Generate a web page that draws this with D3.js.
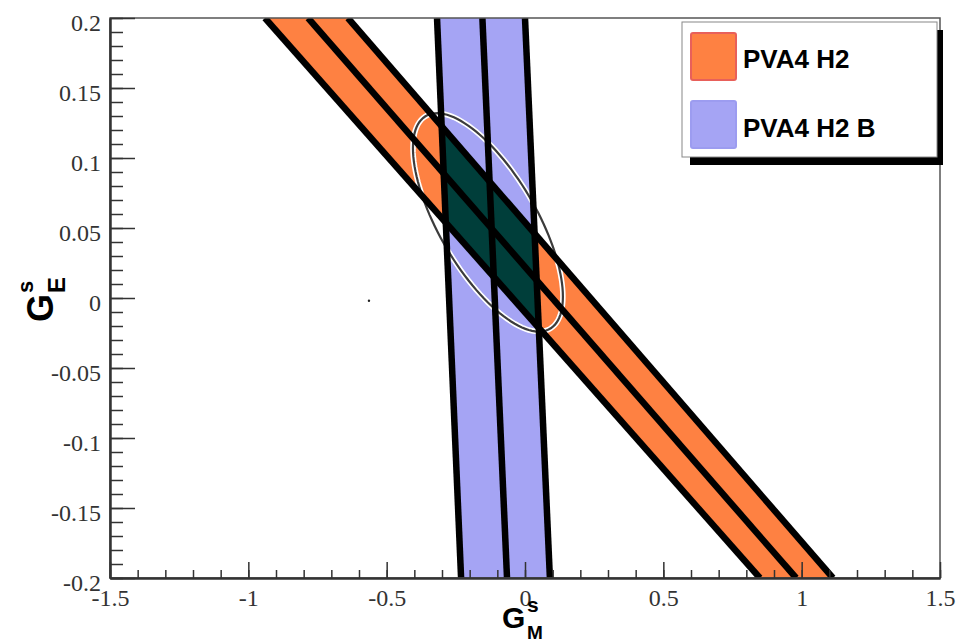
<!DOCTYPE html>
<html lang="en">
<head>
<meta charset="UTF-8">
<script src="https://d3js.org/d3.v7.min.js"></script>
<style>
  body { margin: 0; background: #fff; }
  svg { display: block; }
</style>
</head>
<body>
<script>
// band edges, G_M value where each line meets G_E = 0.2 (top) and G_E = -0.2 (bottom)
const bandGE = [0.2, -0.2];
const orangeLower = [-0.940, 0.849];
const orangeMid = [-0.784, 0.980];
const orangeUpper = [-0.640, 1.113];
const blueLeft = [-0.318, -0.231];
const blueMid = [-0.154, -0.065];
const blueRight = [0.000, 0.090];

// combined ellipse: centre, half widths and correlation
const ellCenter = [-0.134, 0.054];
const ellSigma = [0.271, 0.078];
const ellRho = -0.68;

const strayPoint = [-0.564, -0.002];

const xTicks = [-1.5, -1, -0.5, 0, 0.5, 1, 1.5];
const xTickLabels = ['-1.5', '-1', '-0.5', '0', '0.5', '1', '1.5'];
const yTicks = [-0.2, -0.15, -0.1, -0.05, 0, 0.05, 0.1, 0.15, 0.2];
const yTickLabels = ['-0.2', '-0.15', '-0.1', '-0.05', '0', '0.05', '0.1', '0.15', '0.2'];

const legendNames = ['PVA4 H2', 'PVA4 H2 B'];
const legendFills = ['#fe8142', '#a5a4f4'];
const legendStrokes = ['#e8605a', '#9c9cf0'];

const W = 968, H = 642;
const svg = d3.select('body').append('svg')
    .attr('width', W)
    .attr('height', H);

const x = d3.scaleLinear().domain([-1.5, 1.5]).range([110, 940]);
const y = d3.scaleLinear().domain([-0.2, 0.2]).range([578, 18]);

// clip to frame
const defs = svg.append('defs');
defs.append('clipPath').attr('id', 'frame')
    .append('rect')
    .attr('x', x(-1.5)).attr('y', y(0.2))
    .attr('width', x(1.5) - x(-1.5)).attr('height', y(-0.2) - y(0.2));

function bandPoly(a, b) {
    return [[a[0], bandGE[0]], [b[0], bandGE[0]], [b[1], bandGE[1]], [a[1], bandGE[1]]];
}
const orangePoly = bandPoly(orangeLower, orangeUpper);
const bluePoly = bandPoly(blueLeft, blueRight);

const line = d3.line().x(d => x(d[0])).y(d => y(d[1]));
const closed = d3.line().x(d => x(d[0])).y(d => y(d[1])).curve(d3.curveLinearClosed);

defs.append('clipPath').attr('id', 'orangeClip')
    .append('path').attr('d', closed(orangePoly));

const plot = svg.append('g').attr('clip-path', 'url(#frame)');

plot.append('path').attr('d', closed(orangePoly)).attr('fill', legendFills[0]);
plot.append('path').attr('d', closed(bluePoly)).attr('fill', legendFills[1]);

// overlap of both bands
plot.append('g').attr('clip-path', 'url(#orangeClip)')
    .append('path').attr('d', closed(bluePoly)).attr('fill', '#003e3a');

// ellipse
const ellPts = d3.range(0, 361, 3).map(function (a) {
    const t = a * Math.PI / 180;
    return [
        ellCenter[0] + ellSigma[0] * Math.cos(t),
        ellCenter[1] + ellSigma[1] * (ellRho * Math.cos(t) + Math.sqrt(1 - ellRho * ellRho) * Math.sin(t))
    ];
});
plot.append('path').attr('d', closed(ellPts))
    .attr('fill', 'none').attr('stroke', '#fff').attr('stroke-width', 5.5);
plot.append('path').attr('d', closed(ellPts))
    .attr('fill', 'none').attr('stroke', '#3c3c3c').attr('stroke-width', 2.2);

// black band edges
[orangeLower, orangeMid, orangeUpper, blueLeft, blueMid, blueRight].forEach(function (l) {
    plot.append('path')
        .attr('d', line([[l[0], bandGE[0]], [l[1], bandGE[1]]]))
        .attr('fill', 'none')
        .attr('stroke', '#000')
        .attr('stroke-width', 6.5);
});

plot.append('circle')
    .attr('cx', x(strayPoint[0])).attr('cy', y(strayPoint[1]))
    .attr('r', 1.2).attr('fill', '#222');

// frame
svg.append('rect')
    .attr('x', x(-1.5)).attr('y', y(0.2))
    .attr('width', x(1.5) - x(-1.5)).attr('height', y(-0.2) - y(0.2))
    .attr('fill', 'none').attr('stroke', '#555').attr('stroke-width', 1.5);

// x axis
const xMinor = d3.range(-15, 16).map(d => d / 10);
svg.append('g')
    .attr('transform', `translate(0, ${y(-0.2)})`)
    .call(d3.axisBottom(x).tickValues(xMinor).tickSize(-8).tickSizeOuter(0).tickFormat(''));
const xAxis = svg.append('g')
    .attr('transform', `translate(0, ${y(-0.2)})`)
    .call(d3.axisBottom(x).tickValues(xTicks).tickSize(-16).tickSizeOuter(0).tickPadding(11)
        .tickFormat((d, i) => xTickLabels[i]));

// y axis
const yMinor = d3.range(-20, 21).map(d => d / 100);
svg.append('g')
    .attr('transform', `translate(${x(-1.5)}, 0)`)
    .call(d3.axisLeft(y).tickValues(yMinor).tickSize(-13).tickSizeOuter(0).tickFormat(''));
const yAxis = svg.append('g')
    .attr('transform', `translate(${x(-1.5)}, 0)`)
    .call(d3.axisLeft(y).tickValues(yTicks).tickSize(-25).tickSizeOuter(0).tickPadding(9)
        .tickFormat((d, i) => yTickLabels[i]));
yAxis.selectAll('text').attr('dy', '0.5em');

svg.selectAll('.tick line').attr('stroke', '#333').attr('stroke-width', 1.5);
svg.selectAll('.domain').attr('stroke', '#333').attr('stroke-width', 2);
svg.selectAll('.tick text')
    .attr('font-family', '"Liberation Serif", "DejaVu Serif", serif')
    .attr('font-size', 24)
    .attr('fill', '#333');

// axis titles
const titleFont = '"Liberation Sans", Arial, sans-serif';
const xt = svg.append('g').attr('transform', 'translate(502, 628)')
    .attr('font-family', titleFont).attr('font-weight', 'bold').attr('fill', '#000');
xt.append('text').attr('font-size', 30).text('G');
xt.append('text').attr('x', 25).attr('y', -16).attr('font-size', 21).text('s');
xt.append('text').attr('x', 25).attr('y', 11).attr('font-size', 19).text('M');

const yt = svg.append('g').attr('transform', 'translate(53, 322) rotate(-90)')
    .attr('font-family', titleFont).attr('font-weight', 'bold').attr('fill', '#000');
yt.append('text').attr('font-size', 36).text('G');
yt.append('text').attr('x', 29).attr('y', -20).attr('font-size', 22).text('s');
yt.append('text').attr('x', 29).attr('y', 12).attr('font-size', 24).text('E');

// legend
const lg = svg.append('g');
lg.append('rect').attr('x', 690).attr('y', 30).attr('width', 253).attr('height', 135).attr('fill', '#000');
lg.append('rect').attr('x', 682).attr('y', 22).attr('width', 255).attr('height', 135)
    .attr('fill', '#fff').attr('stroke', '#888').attr('stroke-width', 1);
legendNames.forEach(function (name, i) {
    lg.append('rect')
        .attr('x', 691).attr('y', 33 + i * 68)
        .attr('width', 45).attr('height', 47)
        .attr('rx', 2)
        .attr('fill', legendFills[i])
        .attr('stroke', legendStrokes[i]).attr('stroke-width', 2);
    lg.append('text')
        .attr('x', 743).attr('y', 68 + i * 69)
        .attr('font-family', titleFont).attr('font-weight', 'bold')
        .attr('font-size', 26).attr('fill', '#000')
        .text(name);
});
</script>
</body>
</html>
